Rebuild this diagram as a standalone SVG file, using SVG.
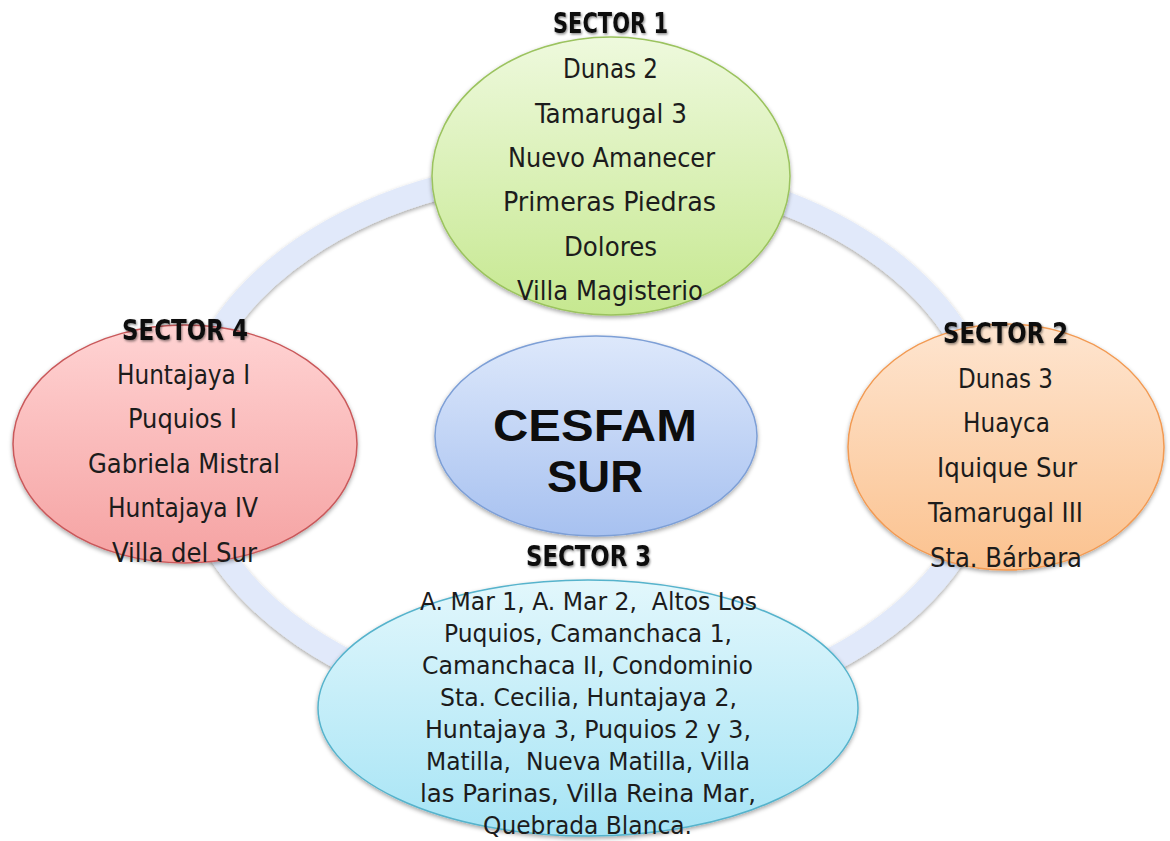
<svg xmlns="http://www.w3.org/2000/svg" width="1170" height="841" viewBox="0 0 1170 841">
<defs>
<linearGradient id="gGreen" x1="0" y1="0" x2="0" y2="1"><stop offset="0" stop-color="#eef9dd"/><stop offset="1" stop-color="#c6e890"/></linearGradient>
<linearGradient id="gRed" x1="0" y1="0" x2="0" y2="1"><stop offset="0" stop-color="#ffd3d3"/><stop offset="1" stop-color="#f5a2a2"/></linearGradient>
<linearGradient id="gOrange" x1="0" y1="0" x2="0" y2="1"><stop offset="0" stop-color="#fee5d0"/><stop offset="1" stop-color="#fbc28f"/></linearGradient>
<linearGradient id="gCyan" x1="0" y1="0" x2="0" y2="1"><stop offset="0" stop-color="#e2f7fc"/><stop offset="1" stop-color="#a6e4f5"/></linearGradient>
<linearGradient id="gBlue" x1="0" y1="0" x2="0" y2="1"><stop offset="0" stop-color="#dde8fb"/><stop offset="1" stop-color="#a7c1f0"/></linearGradient>
<filter id="shadow" x="-10%" y="-10%" width="120%" height="125%"><feDropShadow dx="0" dy="2" stdDeviation="2" flood-color="#000" flood-opacity="0.35"/></filter>
<filter id="tshadow" x="-10%" y="-20%" width="120%" height="160%"><feDropShadow dx="1" dy="1.5" stdDeviation="1.2" flood-color="#000" flood-opacity="0.45"/></filter>
</defs>
<style>
.t{font-family:"Liberation Sans Narrow","DejaVu Sans Condensed","Liberation Sans",sans-serif;font-size:26px;fill:#1c1c1c}
.s{font-size:24px}
.h{font-family:"Liberation Sans Narrow","DejaVu Sans Condensed","Liberation Sans",sans-serif;font-weight:bold;font-size:28px;fill:#111;filter:url(#tshadow)}
.c{font-family:"Liberation Sans",Arial,sans-serif;font-weight:bold;font-size:44px;fill:#0d0d0d}
.node{stroke-width:1.5;filter:url(#shadow)}
</style>
<rect width="1170" height="841" fill="#ffffff"/>
<g id="connectors">
<ellipse cx="588" cy="442" rx="402" ry="274" fill="none" stroke="#e1e9fa" stroke-width="24" filter="url(#shadow)"/>
</g>
<g id="sector1">
<ellipse class="node" cx="611" cy="176" rx="179" ry="139" fill="url(#gGreen)" stroke="#9bc35e"/>
<text class="h" x="553" y="33" textLength="115" lengthAdjust="spacingAndGlyphs">SECTOR 1</text>
<text class="t" x="563" y="78" textLength="95" lengthAdjust="spacingAndGlyphs">Dunas 2</text>
<text class="t" x="535" y="123" textLength="152" lengthAdjust="spacingAndGlyphs">Tamarugal 3</text>
<text class="t" x="508" y="167" textLength="207" lengthAdjust="spacingAndGlyphs">Nuevo Amanecer</text>
<text class="t" x="503" y="211" textLength="213" lengthAdjust="spacingAndGlyphs">Primeras Piedras</text>
<text class="t" x="564" y="256" textLength="93" lengthAdjust="spacingAndGlyphs">Dolores</text>
<text class="t" x="517" y="300" textLength="186" lengthAdjust="spacingAndGlyphs">Villa Magisterio</text>
</g>
<g id="sector4">
<ellipse class="node" cx="185" cy="444" rx="172" ry="119" fill="url(#gRed)" stroke="#c9585a"/>
<text class="h" x="122" y="340" textLength="126" lengthAdjust="spacingAndGlyphs">SECTOR 4</text>
<text class="t" x="117" y="384" textLength="133" lengthAdjust="spacingAndGlyphs">Huntajaya I</text>
<text class="t" x="128" y="428" textLength="109" lengthAdjust="spacingAndGlyphs">Puquios I</text>
<text class="t" x="88" y="473" textLength="192" lengthAdjust="spacingAndGlyphs">Gabriela Mistral</text>
<text class="t" x="108" y="517" textLength="150" lengthAdjust="spacingAndGlyphs">Huntajaya IV</text>
<text class="t" x="112" y="562" textLength="145" lengthAdjust="spacingAndGlyphs">Villa del Sur</text>
</g>
<g id="sector2">
<ellipse class="node" cx="1006" cy="447" rx="158" ry="123" fill="url(#gOrange)" stroke="#f29a52"/>
<text class="h" x="943" y="343" textLength="125" lengthAdjust="spacingAndGlyphs">SECTOR 2</text>
<text class="t" x="958" y="388" textLength="95" lengthAdjust="spacingAndGlyphs">Dunas 3</text>
<text class="t" x="963" y="432" textLength="87" lengthAdjust="spacingAndGlyphs">Huayca</text>
<text class="t" x="937" y="477" textLength="140" lengthAdjust="spacingAndGlyphs">Iquique Sur</text>
<text class="t" x="928" y="522" textLength="155" lengthAdjust="spacingAndGlyphs">Tamarugal III</text>
<text class="t" x="930" y="567" textLength="152" lengthAdjust="spacingAndGlyphs">Sta. Bárbara</text>
</g>
<g id="sector3">
<ellipse class="node" cx="588" cy="708" rx="270" ry="128" fill="url(#gCyan)" stroke="#56b3cc"/>
<text class="h" x="526" y="566" textLength="125" lengthAdjust="spacingAndGlyphs">SECTOR 3</text>
<text class="t s" x="420" y="610" textLength="337" lengthAdjust="spacingAndGlyphs" xml:space="preserve">A. Mar 1, A. Mar 2,  Altos Los</text>
<text class="t s" x="444" y="642" textLength="288" lengthAdjust="spacingAndGlyphs">Puquios, Camanchaca 1,</text>
<text class="t s" x="422" y="674" textLength="331" lengthAdjust="spacingAndGlyphs">Camanchaca II, Condominio</text>
<text class="t s" x="440" y="706" textLength="297" lengthAdjust="spacingAndGlyphs">Sta. Cecilia, Huntajaya 2,</text>
<text class="t s" x="425" y="738" textLength="326" lengthAdjust="spacingAndGlyphs">Huntajaya 3, Puquios 2 y 3,</text>
<text class="t s" x="426" y="770" textLength="324" lengthAdjust="spacingAndGlyphs" xml:space="preserve">Matilla,  Nueva Matilla, Villa</text>
<text class="t s" x="420" y="802" textLength="336" lengthAdjust="spacingAndGlyphs">las Parinas, Villa Reina Mar,</text>
<text class="t s" x="483" y="834" textLength="209" lengthAdjust="spacingAndGlyphs">Quebrada Blanca.</text>
</g>
<g id="center">
<ellipse class="node" cx="596" cy="436" rx="161" ry="100" fill="url(#gBlue)" stroke="#7d9fd6"/>
<text class="c" x="493" y="441" textLength="204" lengthAdjust="spacingAndGlyphs">CESFAM</text>
<text class="c" x="547" y="492" textLength="96" lengthAdjust="spacingAndGlyphs">SUR</text>
</g>
</svg>
